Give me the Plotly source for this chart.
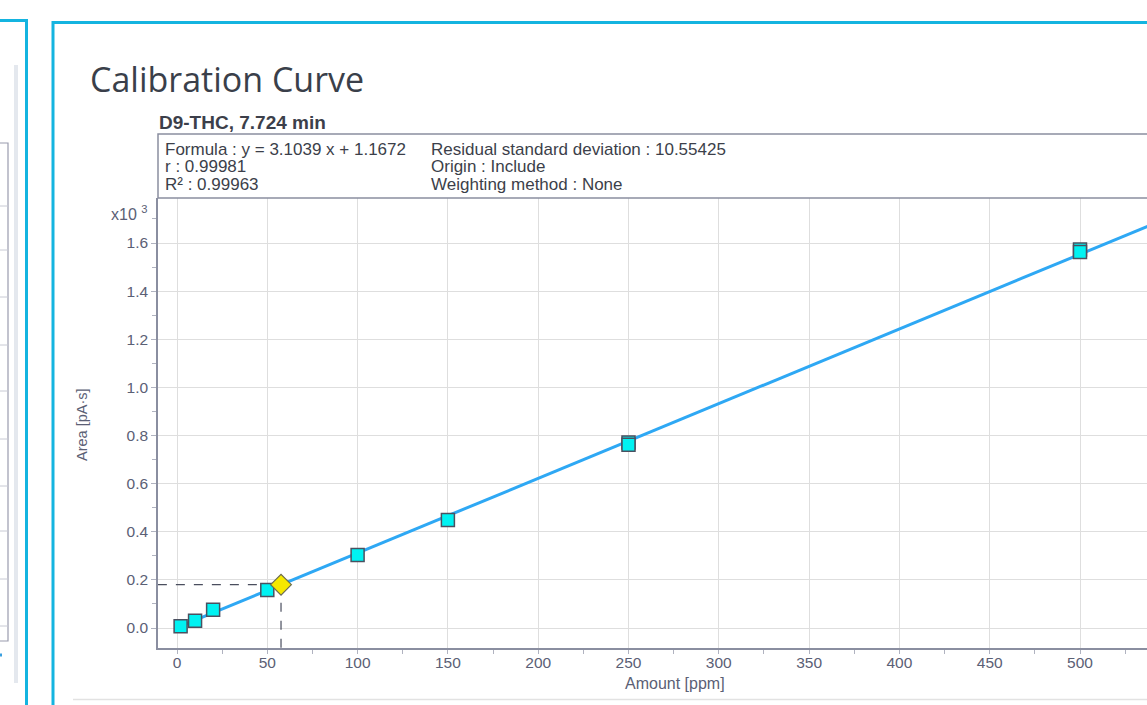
import plotly.graph_objects as go

# ---- data ----
std_amount = [2, 10, 20, 50, 100, 150, 250, 250, 500, 500]
std_area = [7, 30, 76, 158, 303, 449, 771, 762, 1573, 1563]
unknown_amount = [57.6]
unknown_area = [180]
slope = 3.1039
intercept = 1.1672
fit_x = [0, 540]
x_ticks = [0, 50, 100, 150, 200, 250, 300, 350, 400, 450, 500]
y_ticks = [0, 200, 400, 600, 800, 1000, 1200, 1400, 1600]
y_ticktext = ["0.0", "0.2", "0.4", "0.6", "0.8", "1.0", "1.2", "1.4", "1.6"]

W, H = 1147, 705
L, R, T, B = 158, 1147, 198, 648


def px(x):
    return (x - L) / (R - L)


def py(y):
    return (B - y) / (B - T)


fit_y = [slope * v + intercept for v in fit_x]

fig = go.Figure()
fig.add_trace(go.Scatter(x=fit_x, y=fit_y, mode="lines",
                         line=dict(color="#2ea8f4", width=3), hoverinfo="skip"))
# dashed guide lines for the unknown
fig.add_trace(go.Scatter(x=[-10.6, unknown_amount[0]], y=[unknown_area[0], unknown_area[0]],
                         mode="lines", line=dict(color="#4a4e5e", width=1.2, dash="dash")))
fig.add_trace(go.Scatter(x=[unknown_amount[0], unknown_amount[0]], y=[unknown_area[0], -90],
                         mode="lines", line=dict(color="#4a4e5e", width=1.2, dash="dash")))
fig.add_trace(go.Scatter(x=std_amount, y=std_area, mode="markers",
                         marker=dict(symbol="square", size=13, color="#00f2f2",
                                     line=dict(color="#4b5060", width=1.5))))
fig.add_trace(go.Scatter(x=unknown_amount, y=unknown_area, mode="markers",
                         marker=dict(symbol="diamond", size=16, color="#f5e800",
                                     line=dict(color="#6a6a50", width=1.2))))

axis_col = "#8a8ea0"
tick_font = dict(family="Liberation Sans, Arial", size=15.5, color="#5b6075")
fig.update_xaxes(range=[-10.52, 537.1], tickvals=x_ticks, showgrid=True, gridcolor="#dedede",
                 gridwidth=1, zeroline=False, showline=True, linecolor=axis_col, linewidth=1.5,
                 ticks="", tickfont=tick_font,
                 minor=dict(dtick=25, tick0=0, ticks="outside", ticklen=4, tickcolor="#b0b3c0",
                            showgrid=False))
fig.update_yaxes(range=[-83.1, 1787], tickvals=y_ticks, ticktext=y_ticktext, showgrid=True,
                 gridcolor="#dedede", gridwidth=1, zeroline=False, showline=True,
                 linecolor=axis_col, linewidth=1.5, ticks="outside", ticklen=5,
                 tickcolor="#b0b3c0", tickfont=tick_font,
                 minor=dict(dtick=100, tick0=0, ticks="outside", ticklen=4, tickcolor="#b0b3c0",
                            showgrid=False))

cyan = "#14b4e0"
shapes = [
    # left panel border
    dict(type="line", x0=px(-10), x1=px(26.5), y0=py(20.5), y1=py(20.5), line=dict(color=cyan, width=3)),
    dict(type="line", x0=px(26.5), x1=px(26.5), y0=py(19), y1=py(720), line=dict(color=cyan, width=3)),
    # left panel scrollbar
    dict(type="rect", x0=px(14), x1=px(18), y0=py(65), y1=py(683), fillcolor="#e4e8ee",
         line=dict(width=0)),
    # left panel box
    dict(type="rect", x0=px(-10), x1=px(8), y0=py(143), y1=py(641), fillcolor="rgba(0,0,0,0)",
         line=dict(color="#9a9cae", width=1.2)),
    # main panel border
    dict(type="line", x0=px(53), x1=px(1160), y0=py(22.5), y1=py(22.5), line=dict(color=cyan, width=3)),
    dict(type="line", x0=px(53), x1=px(53), y0=py(21), y1=py(720), line=dict(color=cyan, width=3)),
    # info box
    dict(type="rect", x0=px(158), x1=px(1160), y0=py(134), y1=py(198), fillcolor="rgba(0,0,0,0)",
         line=dict(color=axis_col, width=1.5)),
    # bottom separator
    dict(type="line", x0=px(73), x1=px(1160), y0=py(699.5), y1=py(699.5),
         line=dict(color="#e2e2e2", width=1.5)),
    dict(type="line", x0=px(0), x1=px(2), y0=py(655), y1=py(655),
         line=dict(color="#3aa0e0", width=3)),
]
for yl in [206, 250, 297, 345, 391, 439, 486, 531, 579, 626]:
    shapes.append(dict(type="line", x0=px(-10), x1=px(8), y0=py(yl), y1=py(yl),
                       line=dict(color="#c8cad4", width=1)))
for s in shapes:
    s.update(xref="paper", yref="paper", layer="above")

info_font = dict(family="Liberation Sans, Arial", size=17, color="#3c3f4a")
ann = [
    dict(text="Calibration Curve", x=px(88), y=py(79), xanchor="left", yanchor="middle",
         font=dict(family="Open Sans, Noto Sans", size=34, color="#3a3f4a")),
    dict(text="<b>D9-THC, 7.724 min</b>", x=px(157), y=py(123), xanchor="left", yanchor="middle",
         font=dict(family="Liberation Sans, Arial", size=19, color="#3c3f4a")),
    dict(text="Formula : y = 3.1039 x + 1.1672", x=px(163), y=py(149), font=info_font),
    dict(text="r : 0.99981", x=px(163), y=py(167), font=info_font),
    dict(text="R² : 0.99963", x=px(163), y=py(185), font=info_font),
    dict(text="Residual standard deviation : 10.55425", x=px(429), y=py(149), font=info_font),
    dict(text="Origin : Include", x=px(429), y=py(167), font=info_font),
    dict(text="Weighting method : None", x=px(429), y=py(185), font=info_font),
    dict(text="x10 <sup>3</sup>", x=px(149), y=py(213), xanchor="right", yanchor="middle",
         font=dict(family="Liberation Sans, Arial", size=16, color="#5b6075")),
    dict(text="Area [pA·s]", x=px(82), y=py(425), xanchor="center", yanchor="middle", textangle=-90,
         font=dict(family="Liberation Sans, Arial", size=14.5, color="#5b6075")),
    dict(text="Amount [ppm]", x=px(675), y=py(683), xanchor="center", yanchor="middle",
         font=dict(family="Liberation Sans, Arial", size=16, color="#5b6075")),
]
for a in ann:
    a.setdefault("xanchor", "left")
    a.setdefault("yanchor", "middle")
    a.update(xref="paper", yref="paper", showarrow=False)

fig.update_layout(width=W, height=H, margin=dict(l=L, r=W - R, t=T, b=H - B, pad=0),
                  paper_bgcolor="white", plot_bgcolor="white", showlegend=False,
                  shapes=shapes, annotations=ann)
fig.write_html("out.html", config={"displayModeBar": False},
               post_script="document.body.style.margin='0';document.body.style.overflow='hidden';")
